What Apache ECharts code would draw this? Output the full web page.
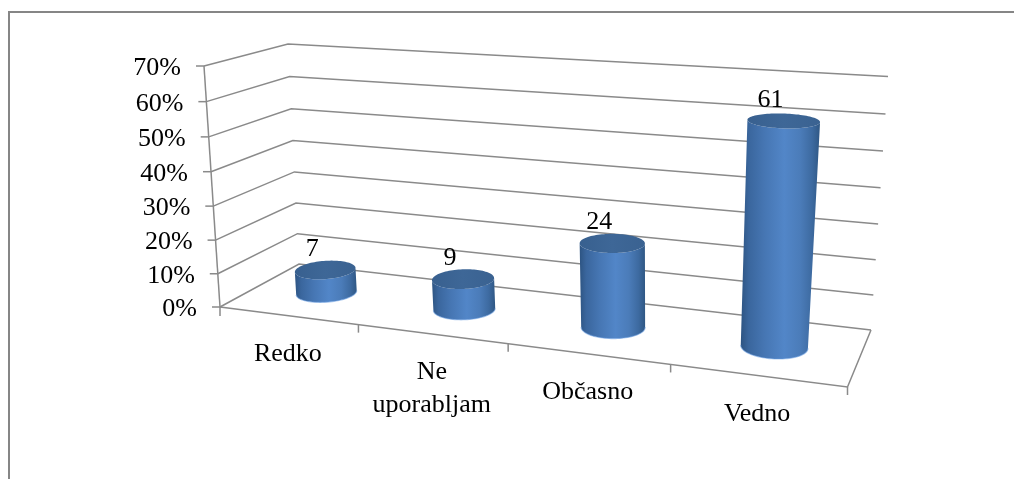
<!DOCTYPE html>
<html>
<head>
<meta charset="utf-8">
<style>html,body{margin:0;padding:0;background:#fff}#chart{width:1014px;height:479px}</style>
<script src="https://cdn.jsdelivr.net/npm/echarts@6/dist/echarts.min.js"></script>
</head>
<body>
<div id="chart"></div>
<script>
const categories = ['Redko', 'Ne\nuporabljam', 'Občasno', 'Vedno'];
const percentages = [7, 9, 24, 61];
const valueTicks = [0, 10, 20, 30, 40, 50, 60, 70];
const tickLabels = ['0%', '10%', '20%', '30%', '40%', '50%', '60%', '70%'];

// Corners of the floor and of the ceiling of the 3D box, in order
// front-left, back-left, back-right, front-right.
const floorQuad = [[220, 307], [299, 264], [871, 330], [847.5, 387]];
const ceilQuad = [[204, 66], [288, 44], [888, 76.5], [871, 109]];
const VERTICAL_PERSPECTIVE = 0.96;
const FLOOR_PERSPECTIVE = 0.973;
const BAR_RADIUS_U = 0.049;
const BAR_RADIUS_W = 0.21;
const SERIF = '"Liberation Serif", "Times New Roman", serif';
const LINE = '#8a8a8a';

// Homography taking the unit square (u along the front, w into the depth) onto a quad.
function squareToQuad(q) {
  const [[x0, y0], [x1, y1], [x2, y2], [x3, y3]] = [q[0], q[3], q[2], q[1]];
  const sx = x0 - x1 + x2 - x3, sy = y0 - y1 + y2 - y3;
  const dx1 = x1 - x2, dx2 = x3 - x2, dy1 = y1 - y2, dy2 = y3 - y2;
  const det = dx1 * dy2 - dx2 * dy1;
  const g = (sx * dy2 - dx2 * sy) / det, h = (dx1 * sy - sx * dy1) / det;
  const a = x1 - x0 + g * x1, b = x3 - x0 + h * x3, d = y1 - y0 + g * y1, e = y3 - y0 + h * y3;
  return (u, w) => {
    const n = g * u + h * w + 1;
    return [(a * u + b * w + x0) / n, (d * u + e * w + y0) / n];
  };
}
const floorMap = squareToQuad(floorQuad);
const ceilMap = squareToQuad(ceilQuad);

const foreshorten = (s, c) => c * s / (1 + (c - 1) * s);

function project(u, w, v) {
  const t = foreshorten(v, VERTICAL_PERSPECTIVE);
  const a = floorMap(foreshorten(u, FLOOR_PERSPECTIVE), w), b = ceilMap(u, w);
  return [a[0] + (b[0] - a[0]) * t, a[1] + (b[1] - a[1]) * t];
}

// Grid pixels from the axis scales become box coordinates.
function toUnit(pt, cs) {
  return [(pt[0] - cs.x) / cs.width, (cs.y + cs.height - pt[1]) / cs.height];
}

const lineStyle = { stroke: LINE, lineWidth: 1.5, fill: null };
function polyline(points) {
  return { type: 'polyline', shape: { points }, style: lineStyle };
}
function label(text, x, y, align, baseline) {
  return {
    type: 'text',
    style: { text, x, y, fill: '#000', font: '26px ' + SERIF, align, verticalAlign: baseline, lineHeight: 33 }
  };
}

// Wall gridlines, value-axis ticks and labels; the zero line also closes the floor.
function renderWall(params, api) {
  const cs = params.coordSys;
  const v = toUnit(api.coord([0, api.value(1)]), cs)[1];
  const front = project(0, 0, v), back = project(0, 1, v), right = project(1, 1, v);
  const children = [
    polyline([front, back, right]),
    polyline([[front[0] - 8, front[1]], front]),
    label(tickLabels[params.dataIndex], front[0] - 23, front[1] + 2.5, 'right', 'middle')
  ];
  if (v === 0) {
    children.push(polyline([front, project(1, 0, 0), right]));
    children.push(polyline([project(0, 0, 1), front]));
    children.push(polyline([front, [front[0], front[1] + 9]]));
  }
  return { type: 'group', children };
}

// Category ticks along the front floor edge and the category names.
function renderCategory(params, api) {
  const cs = params.coordSys;
  const band = api.size([1, 0])[0] / cs.width;
  const uc = toUnit(api.coord([api.value(0), 0]), cs)[0];
  const end = project(uc + band / 2, 0, 0);
  const mid = project(uc, 0, 0);
  return {
    type: 'group',
    children: [
      polyline([end, [end[0], end[1] + 8]]),
      label(categories[params.dataIndex], mid[0], mid[1] + 22, 'center', 'top')
    ]
  };
}

const bodyFill = new echarts.graphic.LinearGradient(0, 0, 1, 0, [
  { offset: 0, color: '#2d5482' },
  { offset: 0.1, color: '#3a669d' },
  { offset: 0.3, color: '#4676b3' },
  { offset: 0.55, color: '#5286c8' },
  { offset: 0.75, color: '#4b7cb9' },
  { offset: 0.9, color: '#3d6aa0' },
  { offset: 1, color: '#2f5784' }
]);
const capFill = new echarts.graphic.LinearGradient(0, 0, 1, 0, [
  { offset: 0, color: '#38608f' },
  { offset: 0.5, color: '#3e6797' },
  { offset: 1, color: '#3a6291' }
]);

// The part of a closed outline facing the viewer, from its leftmost to its rightmost point.
function frontArc(pts) {
  let iL = 0, iR = 0;
  pts.forEach((p, i) => {
    if (p[0] < pts[iL][0]) iL = i;
    if (p[0] > pts[iR][0]) iR = i;
  });
  const n = pts.length, walk = (step) => {
    const out = [];
    for (let i = iL; ; i = (i + step + n) % n) {
      out.push(pts[i]);
      if (i === iR) break;
    }
    return out;
  };
  const meanY = (a) => a.reduce((s, p) => s + p[1], 0) / a.length;
  const a = walk(1), b = walk(-1);
  return meanY(a) > meanY(b) ? a : b;
}

function ring(uc, v) {
  const pts = [];
  for (let i = 0; i < 96; i++) {
    const t = i / 96 * Math.PI * 2;
    pts.push(project(uc + BAR_RADIUS_U * Math.cos(t), 0.5 + BAR_RADIUS_W * Math.sin(t), v));
  }
  return pts;
}

// One cylinder per category, with its value printed above the cap.
function renderBar(params, api) {
  const cs = params.coordSys;
  const value = api.value(1);
  const [uc, v] = toUnit(api.coord([api.value(0), value]), cs);
  const base = ring(uc, 0), cap = ring(uc, v);
  const baseArc = frontArc(base);
  const body = baseArc.concat(frontArc(cap).reverse());
  const centre = project(uc, 0.5, v);
  return {
    type: 'group',
    children: [
      { type: 'polygon', shape: { points: body }, style: { fill: bodyFill } },
      { type: 'polyline', shape: { points: baseArc },
        style: { stroke: 'rgba(110,160,225,0.55)', lineWidth: 1.2, fill: null } },
      { type: 'polygon', shape: { points: cap }, style: { fill: capFill } },
      label(String(value), centre[0] - 13, centre[1] - 21, 'center', 'middle')
    ]
  };
}

const chart = echarts.init(document.getElementById('chart'), null, { renderer: 'canvas' });
chart.setOption({
  animation: false,
  backgroundColor: '#fff',
  grid: { left: 220, top: 66, width: 627.5, height: 241 },
  xAxis: { type: 'category', data: categories, show: false },
  yAxis: { type: 'value', min: 0, max: 70, interval: 10, show: false },
  graphic: [{
    type: 'polyline',
    shape: { points: [[9, 479], [9, 12], [1014, 12]] },
    style: { stroke: '#868686', lineWidth: 2, fill: null },
    silent: true
  }],
  series: [
    { type: 'custom', name: 'Stene', renderItem: renderWall, z: 1, silent: true,
      data: valueTicks.map((t) => [0, t]) },
    { type: 'custom', name: 'Kategorije', renderItem: renderCategory, z: 2, silent: true,
      data: categories.map((c, i) => [i, 0]) },
    { type: 'custom', name: 'Delež', renderItem: renderBar, z: 3, silent: true,
      data: percentages.map((p, i) => [i, p]) }
  ]
});
</script>
</body>
</html>
